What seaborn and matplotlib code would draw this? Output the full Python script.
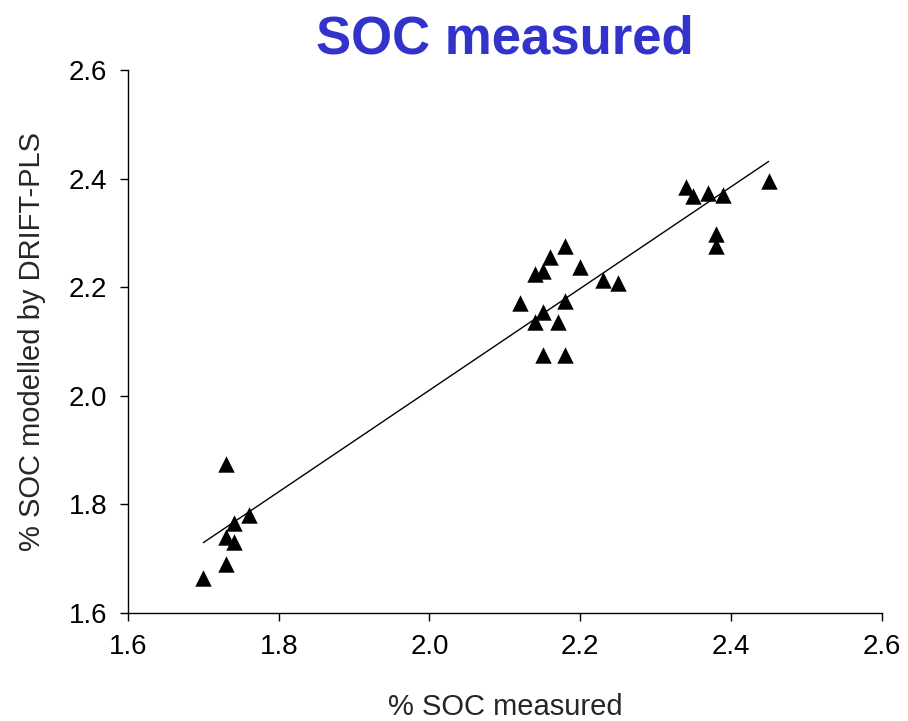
import numpy as np
import pandas as pd
import matplotlib
matplotlib.use("Agg")
import matplotlib.pyplot as plt
import seaborn as sns

measured = [1.70, 1.73, 1.73, 1.73, 1.74, 1.74, 1.76,
            2.12, 2.14, 2.14, 2.15, 2.15, 2.15, 2.16, 2.17, 2.18, 2.18, 2.18, 2.20, 2.23, 2.25,
            2.34, 2.35, 2.37, 2.39, 2.38, 2.38, 2.45]
modelled = [1.665, 1.69, 1.875, 1.74, 1.73, 1.765, 1.78,
            2.17, 2.135, 2.225, 2.23, 2.155, 2.075, 2.255, 2.135, 2.275, 2.175, 2.075, 2.237, 2.213, 2.208,
            2.385, 2.367, 2.373, 2.37, 2.298, 2.276, 2.395]
ticks = [1.6, 1.8, 2.0, 2.2, 2.4, 2.6]
tick_labels = ["1.6", "1.8", "2.0", "2.2", "2.4", "2.6"]

sns.set_style("ticks")
plt.rcParams['font.family'] = ['Liberation Sans', 'DejaVu Sans']

df = pd.DataFrame({"measured": measured, "modelled": modelled})

fig = plt.figure(figsize=(9.08, 7.21), dpi=100)
ax = fig.add_axes([0.141, 0.150, 0.830, 0.753])

sns.scatterplot(data=df, x="measured", y="modelled", marker="^", s=140,
                color="black", edgecolor="black", linewidth=0, ax=ax, zorder=3)

coef = np.polyfit(df["measured"], df["modelled"], 1)
xs = np.array([df["measured"].min(), df["measured"].max()])
ax.plot(xs, np.polyval(coef, xs), color="black", linewidth=1)

ax.set_xlim(1.6, 2.6)
ax.set_ylim(1.6, 2.6)
ax.set_xticks(ticks)
ax.set_xticklabels(tick_labels)
ax.set_yticks(ticks)
ax.set_yticklabels(tick_labels)
ax.tick_params(direction="out", length=6, width=1, labelsize=20, colors="black", pad=9)
for s in ["top", "right"]:
    ax.spines[s].set_visible(False)
for s in ["left", "bottom"]:
    ax.spines[s].set_color("black")
    ax.spines[s].set_linewidth(1)

ax.set_xlabel("% SOC measured", fontsize=21, labelpad=24)
ax.set_ylabel("% SOC modelled by DRIFT-PLS", fontsize=21, labelpad=16)
ax.set_title("SOC measured", fontsize=38, fontweight="bold", color="#3333CC", pad=12)

fig.savefig("out.png", dpi=100)
